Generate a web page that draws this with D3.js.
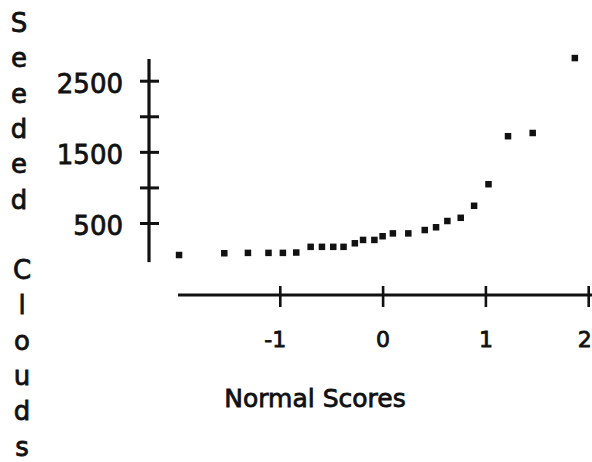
<!DOCTYPE html>
<html>
<head>
<meta charset="utf-8">
<script src="https://cdn.jsdelivr.net/npm/d3@7"></script>
<style>
  html, body { margin: 0; padding: 0; background: #fff; }
  svg { display: block; font-family: "DejaVu Sans", sans-serif; }
  svg text { stroke: #111; stroke-width: 0.8px; }
</style>
</head>
<body>
<div id="chart"></div>
<script>
// Normal probability plot of the seeded-clouds rainfall.
// Each point: normal score (x) against rainfall (y).
const normalScores = [-1.98, -1.54, -1.31, -1.11, -0.97, -0.84, -0.70, -0.59, -0.48, -0.38,
                      -0.27, -0.19, -0.08, 0.00, 0.10, 0.25, 0.41, 0.52, 0.63, 0.76,
                      0.89, 1.03, 1.22, 1.46, 1.87];
const seededClouds = [50, 75, 80, 80, 80, 85, 165, 165, 165, 165,
                      215, 262, 262, 314, 354, 354, 401, 440, 528, 573,
                      742, 1045, 1720, 1765, 2818];

const yTicks = [500, 1000, 1500, 2000, 2500];
const yTickLabels = [500, 1500, 2500];
const xTicks = [-1, 0, 1, 2];
const yTitle = ['S', 'e', 'e', 'd', 'e', 'd', '', 'C', 'l', 'o', 'u', 'd', 's'];
const xTitle = 'Normal Scores';

(function(){
  const width = 592, height = 462;
  const ink = '#111';

  const svg = d3.select('#chart').append('svg')
    .attr('width', width).attr('height', height);

  const x = d3.scaleLinear().domain([-1, 2]).range([279.8, 588.2]);
  const y = d3.scaleLinear().domain([500, 2500]).range([223, 80.7]);

  // --- Y axis: ticks cross the line, labels on every other tick ---
  const yAxisX = 149;
  const yAxis = svg.append('g')
    .attr('transform', `translate(${yAxisX},0)`)
    .call(d3.axisLeft(y)
      .tickValues(yTicks)
      .tickSize(9)
      .tickPadding(17)
      .tickFormat(d => yTickLabels.includes(d) ? d : ''));
  yAxis.select('.domain').remove();
  yAxis.append('line')
    .attr('x1', 0).attr('x2', 0)
    .attr('y1', y(2805)).attr('y2', y(-50))
    .attr('stroke', ink).attr('stroke-width', 3.2);
  yAxis.selectAll('.tick line')
    .attr('x1', -9).attr('x2', 10)
    .attr('stroke', ink).attr('stroke-width', 3);
  yAxis.selectAll('.tick text')
    .attr('dy', '0.46em')
    .attr('fill', ink)
    .style('font-size', '26px')
    .style('font-family', '"DejaVu Sans", sans-serif');

  // --- X axis ---
  const xAxisY = 295;
  const xAxis = svg.append('g')
    .attr('transform', `translate(0,${xAxisY})`)
    .call(d3.axisBottom(x)
      .tickValues(xTicks)
      .tickSize(12)
      .tickFormat(d => String(d)));   // plain hyphen, as in the picture
  xAxis.select('.domain').remove();
  xAxis.append('line')
    .attr('x1', x(-1.99)).attr('x2', x(2.1))
    .attr('y1', 0).attr('y2', 0)
    .attr('stroke', ink).attr('stroke-width', 3.2);
  xAxis.selectAll('.tick line')
    .attr('y1', -9).attr('y2', 12)
    .attr('stroke', ink).attr('stroke-width', 2.6);
  xAxis.selectAll('.tick text')
    .attr('y', 52).attr('dy', 0)
    .attr('dx', d => d === -1 ? -5 : (d === 2 ? -4 : 0))
    .attr('fill', ink)
    .style('font-size', '22px')
    .style('font-family', '"DejaVu Sans", sans-serif');

  // --- points: small filled squares ---
  const pts = normalScores.map((s, i) => ({s, v: seededClouds[i]}));
  const size = 6.5;
  svg.append('g')
    .selectAll('rect')
    .data(pts)
    .join('rect')
    .attr('x', d => x(d.s) - size / 2)
    .attr('y', d => y(d.v) - size / 2)
    .attr('width', size).attr('height', size)
    .attr('fill', ink);

  // --- titles ---
  svg.append('text')
    .attr('x', 315).attr('y', 407)
    .attr('text-anchor', 'middle')
    .attr('fill', ink)
    .style('font-size', '25px')
    .text(xTitle);

  // vertical, letter-stacked y title
  const yt = svg.append('text')
    .attr('text-anchor', 'middle')
    .attr('fill', ink)
    .style('font-size', '26px');
  yt.selectAll('tspan')
    .data(yTitle)
    .join('tspan')
    .attr('x', (d, i) => i < 6 ? 19 : 22)
    .attr('y', (d, i) => 32 + i * 35.3)
    .text(d => d);
})();
</script>
</body>
</html>
